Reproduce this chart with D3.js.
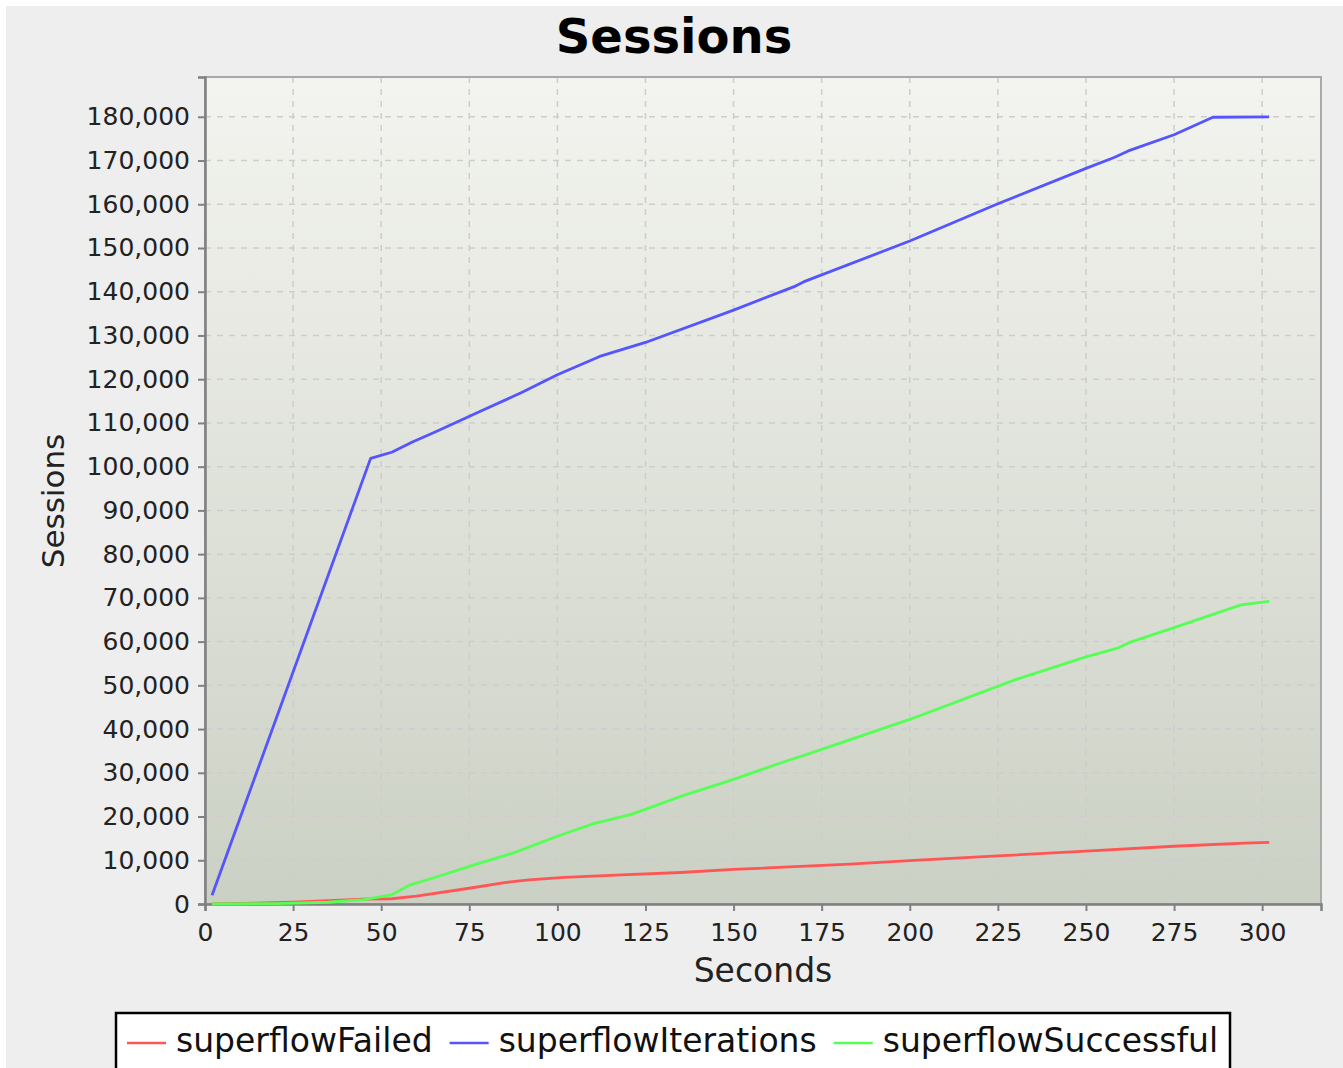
<!DOCTYPE html>
<html>
<head>
<meta charset="utf-8">
<script src="https://cdn.jsdelivr.net/npm/d3@7"></script>
<style>
  body { margin: 0; background: #ffffff; }
  svg { display: block; }
  text { font-family: "DejaVu Sans", sans-serif; }
</style>
</head>
<body>
<div id="chart"></div>
<script>
// series names and colours (legend order)
var seriesNames = ["superflowFailed", "superflowIterations", "superflowSuccessful"];
var seriesColors = ["#ff5555", "#5555ff", "#55ff55"];

// superflowFailed
var failedSeconds = [2, 25, 45, 53, 60, 75, 85, 92, 102, 120, 135, 150, 183, 200, 225, 250, 275, 295, 302];
var failedValues = [0, 400, 1100, 1200, 1800, 3600, 4900, 5500, 6100, 6700, 7200, 7900, 9100, 9900, 11000, 12100, 13200, 13900, 14100];

// superflowIterations
var iterSeconds = [2, 47, 53, 59, 65, 78, 90, 100, 112, 125, 150, 167, 170, 200, 225, 250, 258, 262, 275, 286, 302];
var iterValues = [2000, 101900, 103300, 105700, 107800, 112600, 117000, 121000, 125200, 128400, 135800, 141100, 142300, 151600, 160100, 168200, 170700, 172200, 175900, 179900, 180000];

// superflowSuccessful
var succSeconds = [2, 20, 35, 45, 50, 53, 58, 65, 75, 88, 100, 110, 121, 135, 150, 165, 170, 200, 230, 250, 259, 262, 275, 294, 302];
var succValues = [0, 100, 400, 1000, 1700, 2100, 4300, 6000, 8600, 11800, 15500, 18300, 20500, 24600, 28500, 32700, 34000, 42200, 51300, 56500, 58500, 59700, 63200, 68400, 69200];

var xTicks = [0, 25, 50, 75, 100, 125, 150, 175, 200, 225, 250, 275, 300];
var yTicks = [0, 10000, 20000, 30000, 40000, 50000, 60000, 70000, 80000, 90000,
  100000, 110000, 120000, 130000, 140000, 150000, 160000, 170000, 180000];

var width = 1343, height = 1068;
var plot = { left: 205, top: 77, right: 1321, bottom: 904 };

var svg = d3.select("#chart").append("svg")
  .attr("width", width)
  .attr("height", height);

// chart background
svg.append("rect")
  .attr("x", 6).attr("y", 6)
  .attr("width", width - 6).attr("height", height - 6)
  .attr("fill", "#eeeeee");

var defs = svg.append("defs");
var grad = defs.append("linearGradient")
  .attr("id", "plotbg")
  .attr("x1", 0).attr("y1", 0).attr("x2", 0).attr("y2", 1);
grad.append("stop").attr("offset", "0%").attr("stop-color", "#f3f4ef");
grad.append("stop").attr("offset", "100%").attr("stop-color", "#cbd0c4");

var x = d3.scaleLinear().domain([0, 316.7]).range([plot.left, plot.right]);
var y = d3.scaleLinear().domain([0, 189100]).range([plot.bottom, plot.top]);

svg.append("rect")
  .attr("x", plot.left).attr("y", plot.top)
  .attr("width", plot.right - plot.left)
  .attr("height", plot.bottom - plot.top)
  .attr("fill", "url(#plotbg)");

// gridlines
svg.append("g").selectAll("line.vg")
  .data(xTicks)
  .enter().append("line")
  .attr("x1", function(d) { return x(d); })
  .attr("x2", function(d) { return x(d); })
  .attr("y1", plot.top).attr("y2", plot.bottom)
  .attr("stroke", "#cdcdcd")
  .attr("stroke-width", 1.5)
  .attr("stroke-dasharray", "6,6");

svg.append("g").selectAll("line.hg")
  .data(yTicks)
  .enter().append("line")
  .attr("x1", plot.left).attr("x2", plot.right)
  .attr("y1", function(d) { return y(d); })
  .attr("y2", function(d) { return y(d); })
  .attr("stroke", "#cdcdcd")
  .attr("stroke-width", 1.5)
  .attr("stroke-dasharray", "6,6");

// plot outline
svg.append("rect")
  .attr("x", plot.left).attr("y", plot.top)
  .attr("width", plot.right - plot.left)
  .attr("height", plot.bottom - plot.top)
  .attr("fill", "none")
  .attr("stroke", "#a9a9a9")
  .attr("stroke-width", 2);

// axes
var xAxis = d3.axisBottom(x).tickValues(xTicks).tickSize(7).tickPadding(12)
  .tickFormat(d3.format("d"));
var yAxis = d3.axisLeft(y).tickValues(yTicks).tickSize(7).tickPadding(8)
  .tickFormat(d3.format(","));

var gx = svg.append("g")
  .attr("transform", "translate(0," + plot.bottom + ")")
  .call(xAxis);
var gy = svg.append("g")
  .attr("transform", "translate(" + plot.left + ",0)")
  .call(yAxis);

[gx, gy].forEach(function(g) {
  g.select(".domain").attr("stroke", "#808080").attr("stroke-width", 2.5);
  g.selectAll(".tick line").attr("stroke", "#808080").attr("stroke-width", 2);
  g.selectAll(".tick text")
    .attr("fill", "#222222")
    .style("font-size", "25px")
    .style("font-family", "'DejaVu Sans', sans-serif");
});

// series lines
var line = d3.line()
  .x(function(d) { return x(d[0]); })
  .y(function(d) { return y(d[1]); });

var seriesData = [
  d3.zip(failedSeconds, failedValues),
  d3.zip(iterSeconds, iterValues),
  d3.zip(succSeconds, succValues)
];

svg.append("g").selectAll("path")
  .data(seriesData)
  .enter().append("path")
  .attr("d", line)
  .attr("fill", "none")
  .attr("stroke", function(d, i) { return seriesColors[i]; })
  .attr("stroke-width", 2.8)
  .attr("stroke-linejoin", "round");

// titles
svg.append("text")
  .attr("x", 674).attr("y", 53)
  .attr("text-anchor", "middle")
  .style("font-size", "48px")
  .style("font-weight", "bold")
  .attr("fill", "#000000")
  .text("Sessions");

svg.append("text")
  .attr("x", (plot.left + plot.right) / 2).attr("y", 982)
  .attr("text-anchor", "middle")
  .style("font-size", "33px")
  .attr("fill", "#222222")
  .text("Seconds");

svg.append("text")
  .attr("transform", "translate(64,501) rotate(-90)")
  .attr("text-anchor", "middle")
  .style("font-size", "31px")
  .attr("fill", "#222222")
  .text("Sessions");

// legend
var legend = svg.append("g");
legend.append("rect")
  .attr("x", 116).attr("y", 1013)
  .attr("width", 1114).attr("height", 70)
  .attr("fill", "#ffffff")
  .attr("stroke", "#000000")
  .attr("stroke-width", 2.5);

var lx = 127;
seriesNames.forEach(function(name, i) {
  legend.append("line")
    .attr("x1", lx).attr("x2", lx + 39)
    .attr("y1", 1043).attr("y2", 1043)
    .attr("stroke", seriesColors[i])
    .attr("stroke-width", 2.5);
  var t = legend.append("text")
    .attr("x", lx + 49).attr("y", 1052)
    .style("font-size", "33px")
    .attr("fill", "#111111")
    .text(name);
  lx = lx + 49 + t.node().getComputedTextLength() + 17;
});
</script>
</body>
</html>
